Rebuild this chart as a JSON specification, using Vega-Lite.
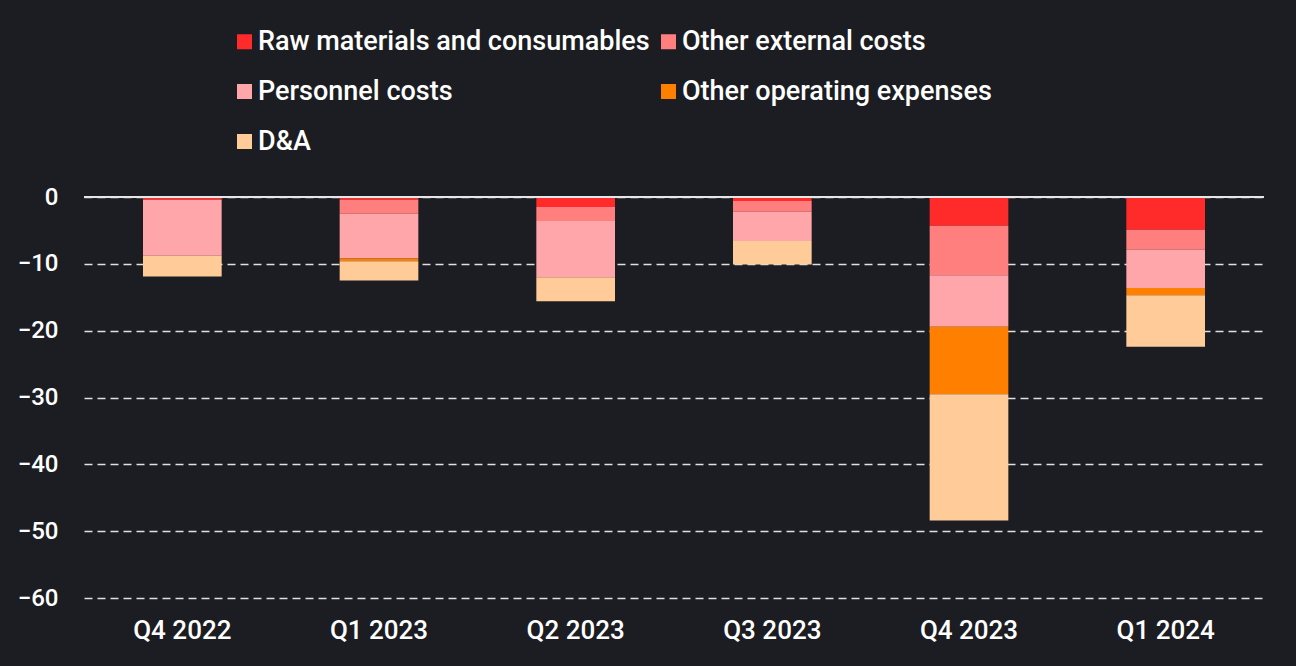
{
  "$schema": "https://vega.github.io/schema/vega-lite/v6.json",
  "autosize": {"type": "none"},
  "padding": {"left": 84, "top": 197, "right": 32, "bottom": 68},
  "width": 1180,
  "height": 401,
  "background": "#1c1d22",
  "config": {
    "view": {"stroke": null},
    "font": "Roboto",
    "axis": {"labelColor": "#ffffff", "labelFont": "Roboto", "labelFontWeight": 500, "labelFontSize": 24}
  },
  "data": {
    "values": [
      {"quarter": "Q4 2022", "category": "Raw materials and consumables", "k": 1, "value": -0.4},
      {"quarter": "Q4 2022", "category": "Other external costs", "k": 2, "value": 0},
      {"quarter": "Q4 2022", "category": "Personnel costs", "k": 3, "value": -8.4},
      {"quarter": "Q4 2022", "category": "Other operating expenses", "k": 4, "value": 0},
      {"quarter": "Q4 2022", "category": "D&A", "k": 5, "value": -3.1},
      {"quarter": "Q1 2023", "category": "Raw materials and consumables", "k": 1, "value": -0.4},
      {"quarter": "Q1 2023", "category": "Other external costs", "k": 2, "value": -2.1},
      {"quarter": "Q1 2023", "category": "Personnel costs", "k": 3, "value": -6.7},
      {"quarter": "Q1 2023", "category": "Other operating expenses", "k": 4, "value": -0.4},
      {"quarter": "Q1 2023", "category": "D&A", "k": 5, "value": -2.9},
      {"quarter": "Q2 2023", "category": "Raw materials and consumables", "k": 1, "value": -1.5},
      {"quarter": "Q2 2023", "category": "Other external costs", "k": 2, "value": -2.1},
      {"quarter": "Q2 2023", "category": "Personnel costs", "k": 3, "value": -8.4},
      {"quarter": "Q2 2023", "category": "Other operating expenses", "k": 4, "value": 0},
      {"quarter": "Q2 2023", "category": "D&A", "k": 5, "value": -3.6},
      {"quarter": "Q3 2023", "category": "Raw materials and consumables", "k": 1, "value": -0.6},
      {"quarter": "Q3 2023", "category": "Other external costs", "k": 2, "value": -1.6},
      {"quarter": "Q3 2023", "category": "Personnel costs", "k": 3, "value": -4.4},
      {"quarter": "Q3 2023", "category": "Other operating expenses", "k": 4, "value": 0},
      {"quarter": "Q3 2023", "category": "D&A", "k": 5, "value": -3.5},
      {"quarter": "Q4 2023", "category": "Raw materials and consumables", "k": 1, "value": -4.3},
      {"quarter": "Q4 2023", "category": "Other external costs", "k": 2, "value": -7.4},
      {"quarter": "Q4 2023", "category": "Personnel costs", "k": 3, "value": -7.7},
      {"quarter": "Q4 2023", "category": "Other operating expenses", "k": 4, "value": -10.1},
      {"quarter": "Q4 2023", "category": "D&A", "k": 5, "value": -18.9},
      {"quarter": "Q1 2024", "category": "Raw materials and consumables", "k": 1, "value": -4.9},
      {"quarter": "Q1 2024", "category": "Other external costs", "k": 2, "value": -3.0},
      {"quarter": "Q1 2024", "category": "Personnel costs", "k": 3, "value": -5.7},
      {"quarter": "Q1 2024", "category": "Other operating expenses", "k": 4, "value": -1.1},
      {"quarter": "Q1 2024", "category": "D&A", "k": 5, "value": -7.7}
    ]
  },
  "layer": [
    {
      "mark": {"type": "bar"},
      "encoding": {
        "x": {
          "field": "quarter", "type": "nominal", "sort": null,
          "scale": {"paddingInner": 0.6, "paddingOuter": 0.3},
          "axis": {"title": null, "labelAngle": 0, "domain": false, "ticks": false, "labelPadding": 19, "labelFontSize": 26}
        },
        "y": {
          "field": "value", "type": "quantitative", "stack": "zero",
          "scale": {"domain": [-60, 0], "nice": false},
          "axis": {
            "title": null, "values": [0, -10, -20, -30, -40, -50, -60],
            "domain": false, "ticks": false, "labelPadding": 26,
            "grid": true, "gridColor": "#e0e0e0", "gridWidth": 1.5, "gridDash": [8, 5]
          }
        },
        "color": {
          "field": "category", "type": "nominal",
          "scale": {
            "domain": ["Raw materials and consumables", "Other external costs", "Personnel costs", "Other operating expenses", "D&A"],
            "range": ["#ff2a2a", "#ff7f7f", "#ffa6aa", "#ff8000", "#ffcc99"]
          },
          "legend": {
            "title": null, "orient": "none", "legendX": 147, "legendY": -169,
            "direction": "horizontal", "columns": 2,
            "symbolType": "square", "symbolSize": 225, "symbolStrokeWidth": 0,
            "labelColor": "#ffffff", "labelFont": "Roboto", "labelFontSize": 27, "labelFontWeight": 500,
            "labelLimit": 600, "labelOffset": 0, "rowPadding": 22, "columnPadding": 5
          }
        },
        "order": {"field": "k", "type": "quantitative"}
      }
    },
    {
      "mark": {"type": "rule", "color": "#e6e6e6", "strokeWidth": 2},
      "encoding": {"y": {"datum": 0}}
    }
  ]
}
